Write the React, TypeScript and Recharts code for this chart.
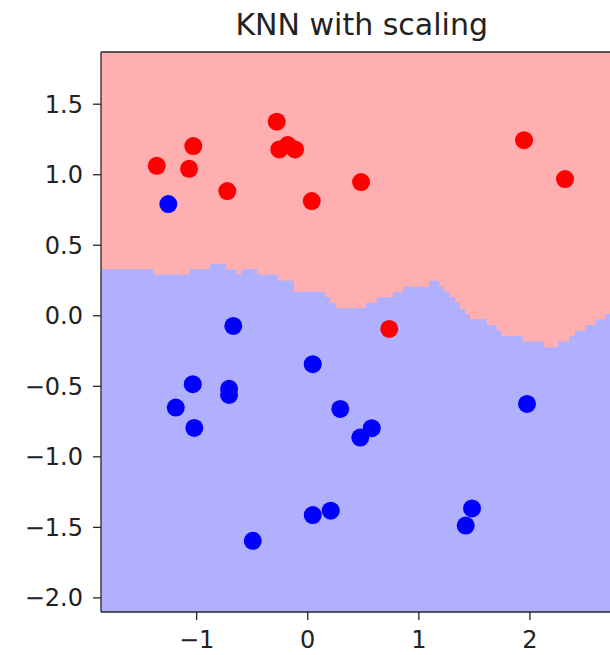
import React from 'react';
import {
  ComposedChart,
  Area,
  Scatter,
  XAxis,
  YAxis,
  CartesianGrid,
  ReferenceLine,
} from 'recharts';

// Training points, class 0 (red) and class 1 (blue), in scaled feature space
const redPoints = [
  { x: -1.359, y: 1.063 },
  { x: -1.03, y: 1.203 },
  { x: -1.068, y: 1.042 },
  { x: -0.724, y: 0.884 },
  { x: -0.279, y: 1.376 },
  { x: -0.256, y: 1.179 },
  { x: -0.18, y: 1.21 },
  { x: -0.114, y: 1.179 },
  { x: 0.036, y: 0.813 },
  { x: 0.48, y: 0.948 },
  { x: 0.734, y: -0.093 },
  { x: 1.947, y: 1.245 },
  { x: 2.316, y: 0.969 },
];

const bluePoints = [
  { x: -1.255, y: 0.792 },
  { x: -0.67, y: -0.072 },
  { x: 0.045, y: -0.343 },
  { x: -1.035, y: -0.485 },
  { x: -0.708, y: -0.518 },
  { x: -0.708, y: -0.561 },
  { x: -1.188, y: -0.651 },
  { x: -1.021, y: -0.795 },
  { x: 0.293, y: -0.66 },
  { x: 0.473, y: -0.863 },
  { x: 0.576, y: -0.797 },
  { x: 1.974, y: -0.625 },
  { x: 0.045, y: -1.413 },
  { x: 0.207, y: -1.382 },
  { x: -0.495, y: -1.595 },
  { x: 1.422, y: -1.487 },
  { x: 1.479, y: -1.366 },
];

// Decision boundary of the KNN classifier: below this step line is class 1
const boundaryX = [
  -1.861, -1.392, -1.064, -0.879, -0.735, -0.641, -0.598, -0.456, -0.265, -0.123,
  0.156, 0.203, 0.25, 0.525, 0.621, 0.765, 0.86, 1.092, 1.185, 1.23,
  1.275, 1.329, 1.371, 1.416, 1.461, 1.611, 1.701, 1.74, 1.935, 2.127,
  2.256, 2.355, 2.406, 2.496, 2.592, 2.676, 2.721,
];
const boundaryY = [
  0.329, 0.292, 0.329, 0.367, 0.329, 0.292, 0.329, 0.292, 0.25, 0.171,
  0.133, 0.093, 0.053, 0.093, 0.131, 0.169, 0.206, 0.249, 0.206, 0.169,
  0.131, 0.093, 0.048, 0.011, -0.025, -0.065, -0.106, -0.143, -0.183, -0.223,
  -0.183, -0.143, -0.106, -0.065, -0.025, 0.013, 0.013,
];

const xTicks = [-1, 0, 1, 2];
const yTicks = [-2, -1.5, -1, -0.5, 0, 0.5, 1, 1.5];

const X_DOMAIN: [number, number] = [-1.861, 2.721];
const Y_DOMAIN: [number, number] = [-2.1, 1.87];

const boundary = boundaryX.map((x, i) => ({ x, y: boundaryY[i] }));

const fmt = (v: number, digits: number) => {
  const s = Math.abs(v).toFixed(digits);
  return v < 0 ? '\u2212' + s : s;
};

const dot = (color: string) => (props: any) =>
  <circle cx={props.cx} cy={props.cy} r={9} fill={color} />;

const tickStyle = { fontSize: 24, fontFamily: 'DejaVu Sans', fill: '#222' };
const axisStroke = { stroke: '#262626', strokeWidth: 1.3 };

export default function App() {
  return (
    <div style={{ position: 'absolute', left: 0, top: 0, width: 610, height: 655, background: '#fff' }}>
      <div
        style={{
          position: 'absolute',
          left: 161.7,
          top: 9.6,
          width: 400,
          textAlign: 'center',
          fontFamily: 'DejaVu Sans',
          fontSize: 30,
          lineHeight: 1,
          color: '#222',
        }}
      >
        KNN with scaling
      </div>
      <ComposedChart
        width={610}
        height={655}
        data={boundary}
        margin={{ top: 52, right: 0, bottom: 0, left: 0 }}
      >
        <CartesianGrid horizontal={false} vertical={false} fill="#ffafaf" fillOpacity={1} stroke="none" />
        <XAxis
          type="number"
          dataKey="x"
          domain={X_DOMAIN}
          allowDataOverflow
          ticks={xTicks}
          tickFormatter={(v: number) => fmt(v, 0)}
          height={43}
          tickSize={8}
          tickMargin={11}
          tick={tickStyle}
          axisLine={axisStroke}
          tickLine={axisStroke}
        />
        <YAxis
          type="number"
          dataKey="y"
          domain={Y_DOMAIN}
          allowDataOverflow
          ticks={yTicks}
          tickFormatter={(v: number) => fmt(v, 1)}
          width={101}
          tickSize={8}
          tickMargin={10}
          tick={tickStyle}
          axisLine={axisStroke}
          tickLine={axisStroke}
        />
        <Area
          type="stepAfter"
          dataKey="y"
          baseValue={Y_DOMAIN[0]}
          fill="#b0b0ff"
          fillOpacity={1}
          stroke="none"
          isAnimationActive={false}
          dot={false}
          activeDot={false}
        />
        <Scatter data={redPoints} shape={dot('#ff0000')} isAnimationActive={false} />
        <Scatter data={bluePoints} shape={dot('#0000ff')} isAnimationActive={false} />
        <ReferenceLine y={Y_DOMAIN[1]} ifOverflow="visible" {...axisStroke} />
      </ComposedChart>
    </div>
  );
}
